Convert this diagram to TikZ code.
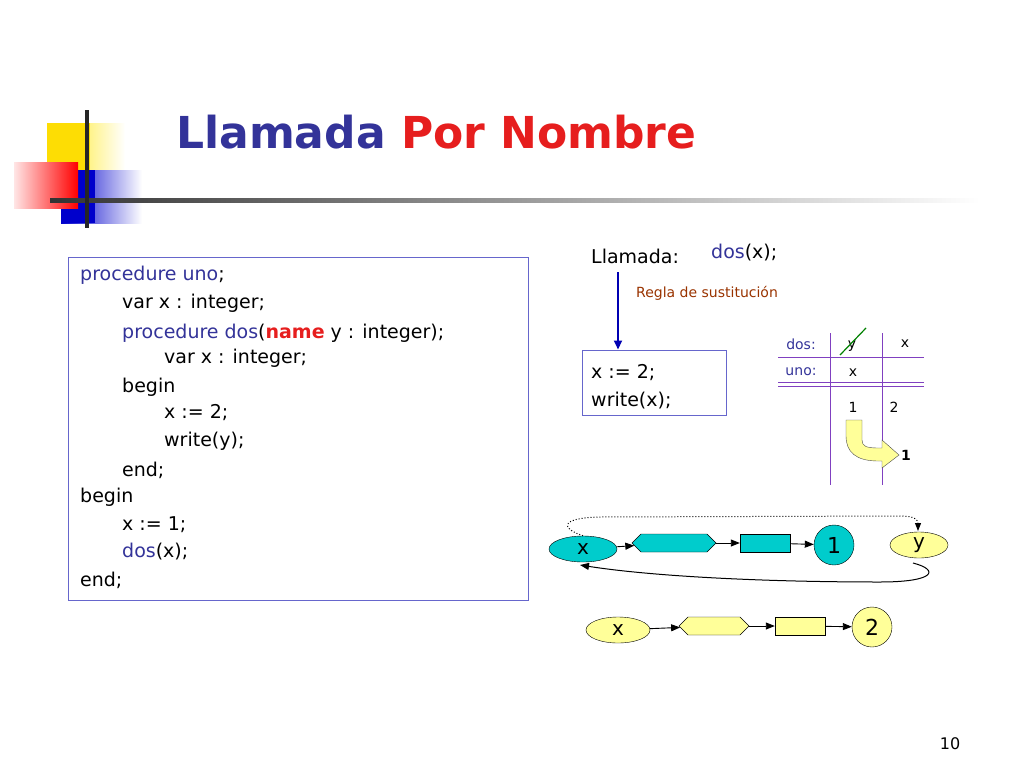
\documentclass[tikz,border=0pt]{standalone}
\usepackage{fontspec}
\setmainfont{DejaVu Sans}
\usetikzlibrary{shapes.geometric,shapes.symbols,arrows.meta}
\definecolor{tblue}{RGB}{51,51,153}
\definecolor{tred}{RGB}{230,30,30}
\definecolor{brn}{RGB}{153,51,0}
\definecolor{teal2}{RGB}{0,204,204}
\definecolor{ylw}{RGB}{255,255,153}
\definecolor{purp}{RGB}{128,64,192}
\definecolor{lblue}{RGB}{102,102,204}
\begin{document}
\begin{tikzpicture}[x=1pt,y=-1pt,
  code/.style={anchor=west,inner sep=0pt,font=\fontsize{19}{22}\selectfont},
  small/.style={anchor=center,inner sep=0pt,font=\fontsize{14}{16}\selectfont},
  ell/.style={draw,ellipse,minimum width=#1,minimum height=26pt,inner sep=0pt,font=\fontsize{20}{22}\selectfont},
  rbox/.style={draw,minimum width=50pt,minimum height=18pt,inner sep=0pt},
  circ/.style={draw,circle,minimum size=40pt,inner sep=0pt,font=\fontsize{22}{24}\selectfont},
  arr/.style={-{Triangle[length=9pt,width=7pt]},line width=0.9pt}]
\useasboundingbox (0,0) rectangle (1024,768);
% logo
\shade[left color=yellow!80!orange,right color=white] (47,123) rectangle (125,190);
\fill[yellow!80!orange] (47,123) rectangle (90,190);
\shade[left color=blue!80!black,right color=white] (61,170) rectangle (142,223);
\fill[blue!80!black] (61,170) rectangle (95,223);
\shade[left color=red!10,right color=red] (14,162) rectangle (78,208);
\shade[left color=black!80,right color=white] (50,198) rectangle (980,202);
\fill[black!85] (85,110) rectangle (89,228);
% title
\node[anchor=west,inner sep=0pt,font=\fontsize{44}{48}\selectfont\bfseries] (title) at (176,132) {\textcolor{tblue}{Llamada} \textcolor{tred}{Por Nombre}};
% code box
\draw[lblue,line width=1pt] (68,257) rectangle (528,600);
\node[code] (c1) at (80,275) {\textcolor{tblue}{procedure uno};};
\node[code] (c2) at (122,303) {var x : integer;};
\node[code] (c3) at (122,333) {\textcolor{tblue}{procedure dos}(\textcolor{tred}{\bfseries name} y : integer);};
\node[code] (c4) at (164,358) {var x : integer;};
\node[code] (c5) at (122,387) {begin};
\node[code] (c6) at (164,413) {x := 2;};
\node[code] (c7) at (164,441) {write(y);};
\node[code] (c8) at (122,470) {end;};
\node[code] (c9) at (80,497) {begin};
\node[code] (c10) at (122,525) {x := 1;};
\node[code] (c11) at (122,552) {\textcolor{tblue}{dos}(x);};
\node[code] (c12) at (80,580) {end;};
% call
\node[code] (ll) at (591,256) {Llamada:};
\node[code] (dx) at (711,253) {\textcolor{tblue}{dos}(x);};
\node[anchor=west,inner sep=0pt,font=\fontsize{14}{16}\selectfont,text=brn] (regla) at (636,293) {Regla de sustitución};
\coordinate (a1) at (618,272);
\node[draw=lblue,line width=1pt,minimum width=144pt,minimum height=65pt,inner sep=0pt] (sub) at (654,382.5) {};
\draw[-{Triangle[length=9pt,width=8pt]},line width=2pt,blue!70!black] (a1) -- (sub.north -| a1);
\node[code] (s1) at (591,373) {x := 2;};
\node[code] (s2) at (591,401) {write(x);};
% table
\draw[purp,line width=1pt] (830,333) -- (830,485) (882,333) -- (882,485);
\draw[purp,line width=1pt] (778,357) -- (924,357) (778,382) -- (924,382) (778,386) -- (924,386);
\node[small,text=tblue] (tdos) at (801,344) {dos:};
\node[small] (ty) at (852,346) {y};
\draw[green!50!black,line width=1.2pt] (840,355) -- (866,328);
\node[small] (tx1) at (905,344) {x};
\node[small,text=tblue] (tuno) at (801,372) {uno:};
\node[small] (tx2) at (853,373) {x};
\node[small] (t1) at (853,407) {1};
\node[small] (t2) at (894,407) {2};
\draw[fill=ylw,draw=black!70] (846,420) -- (862,420) -- (862,440) .. controls (862,446) and (866,448) .. (878,448) -- (882,448) -- (882,440) -- (899,455) -- (882,468) -- (882,461) -- (878,461) .. controls (856,461) and (846,452) .. (846,436) -- cycle;
\node[small,font=\fontsize{14}{16}\selectfont\bfseries] (tone) at (906,455) {1};
% bottom graph row 1
\node[ell=68pt,fill=teal2] (x1) at (583,549) {x};
\node[draw,fill=teal2,shape=signal,signal to=east and west,minimum width=84pt,minimum height=18pt,inner sep=0pt] (h1) at (674,543) {};
\node[rbox,fill=teal2] (r1) at (765,543) {};
\node[circ,fill=teal2] (o1) at (834,545) {1};
\node[ell=58pt,fill=ylw] (y1) at (919,545) {y};
\draw[arr] (x1) -- (h1);
\draw[arr] (h1) -- (r1);
\draw[arr] (r1) -- (o1);
\draw[dotted,line width=1pt,-{Triangle[length=8pt,width=6pt]}] (x1.north) .. controls (560,528) and (560,518) .. (600,517) -- (900,516) .. controls (915,516) and (918,520) .. (918,531);
\coordinate (yb) at (913,563);
\draw[line width=1pt,-{Triangle[length=9pt,width=7pt]}] (yb) .. controls (940,570) and (935,582) .. (880,582) .. controls (760,582) and (650,576) .. (580,565);
% row 2
\node[ell=64pt,fill=ylw] (x2) at (618,630) {x};
\node[draw,fill=ylw,shape=signal,signal to=east and west,minimum width=70pt,minimum height=18pt,inner sep=0pt] (h2) at (714,626) {};
\node[rbox,fill=ylw] (r2) at (800,626) {};
\node[circ,fill=ylw] (o2) at (872,627) {2};
\draw[arr] (x2) -- (h2);
\draw[arr] (h2) -- (r2);
\draw[arr] (r2) -- (o2);
\node[small,font=\fontsize{16}{18}\selectfont] (pg) at (950,744) {10};
\end{tikzpicture}
\end{document}
